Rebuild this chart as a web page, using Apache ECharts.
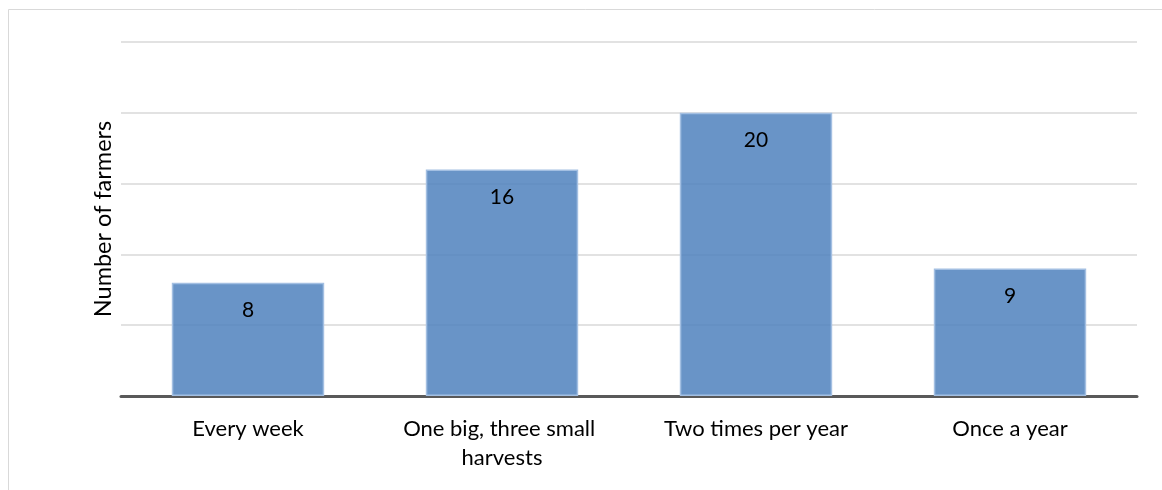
<!DOCTYPE html>
<html>
<head>
<meta charset="utf-8">
<style>
  html, body { margin: 0; padding: 0; background: #fff; }
  #chart { width: 1162px; height: 490px; }
</style>
<script src="https://cdn.jsdelivr.net/npm/echarts@6/dist/echarts.min.js"></script>
</head>
<body>
<div id="chart"></div>
<script>
// Harvest frequency reported by farmers
const categories = ['Every week', 'One big, three small harvests', 'Two times per year', 'Once a year'];
const farmers = [8, 16, 20, 9];
const yTicks = [0, 5, 10, 15, 20, 25];

const FONT = 'Lato, "Open Sans", sans-serif';

const chart = echarts.init(document.getElementById('chart'), null, { renderer: 'canvas' });
chart.setOption({
  animation: false,
  backgroundColor: '#fff',
  graphic: [{
    type: 'rect',
    silent: true,
    shape: { x: 8.5, y: 9.5, width: 1300, height: 700 },
    style: { fill: 'none', stroke: '#d9d9d9', lineWidth: 1 }
  }],
  grid: { left: 121, right: 25, top: 42, bottom: 94, containLabel: false },
  xAxis: {
    type: 'category',
    data: categories,
    axisLine: { show: true, lineStyle: { color: '#595959', width: 3 } },
    axisTick: { show: false },
    axisLabel: {
      margin: 18,
      color: '#000',
      fontFamily: FONT,
      fontSize: 22,
      lineHeight: 29,
      width: 225,
      overflow: 'break',
      interval: 0
    }
  },
  yAxis: {
    type: 'value',
    min: yTicks[0],
    max: yTicks[yTicks.length - 1],
    interval: yTicks[1] - yTicks[0],
    name: 'Number of farmers',
    nameLocation: 'middle',
    nameGap: 6,
    nameTextStyle: { color: '#000', fontFamily: FONT, fontSize: 23.5 },
    axisLine: { show: false },
    axisTick: { show: false },
    axisLabel: { show: false },
    splitLine: { show: true, lineStyle: { color: '#d9d9d9', width: 1.5 } }
  },
  series: [{
    type: 'bar',
    data: farmers,
    barWidth: '60%',
    itemStyle: {
      color: 'rgba(79,129,189,0.85)',
      borderColor: '#a3bfe2',
      borderWidth: 1.5
    },
    label: {
      show: true,
      position: 'insideTop',
      distance: 17,
      color: '#000',
      fontFamily: FONT,
      fontSize: 21
    }
  }]
});
</script>
</body>
</html>
